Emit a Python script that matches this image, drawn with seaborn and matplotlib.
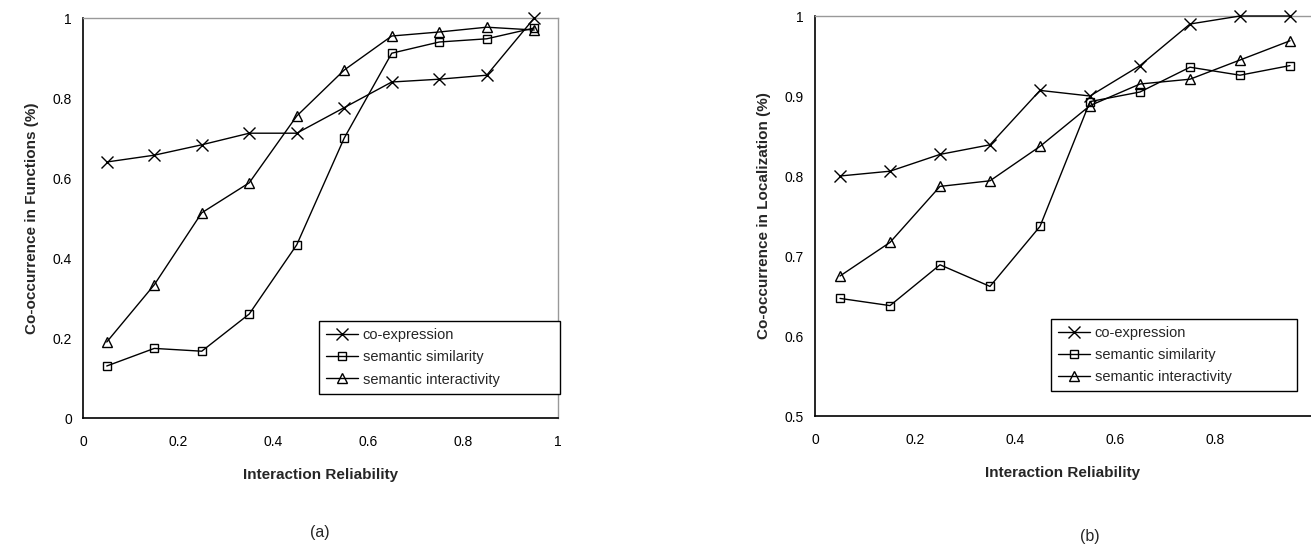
import pandas as pd
import matplotlib
matplotlib.use("Agg")
import matplotlib.pyplot as plt
import seaborn as sns

reliability = [0.05, 0.15, 0.25, 0.35, 0.45, 0.55, 0.65, 0.75, 0.85, 0.95]
series_names = ["co-expression", "semantic similarity", "semantic interactivity"]

# (a) functions
func_coexpr = [0.640, 0.657, 0.683, 0.712, 0.712, 0.776, 0.840, 0.847, 0.857, 1.000]
func_simil = [0.130, 0.174, 0.167, 0.260, 0.433, 0.700, 0.912, 0.940, 0.948, 0.975]
func_inter = [0.190, 0.333, 0.513, 0.588, 0.755, 0.870, 0.955, 0.965, 0.977, 0.970]

# (b) localization
loc_coexpr = [0.800, 0.806, 0.827, 0.839, 0.907, 0.900, 0.938, 0.990, 1.000, 1.000]
loc_simil = [0.647, 0.638, 0.689, 0.662, 0.737, 0.893, 0.905, 0.936, 0.926, 0.938]
loc_inter = [0.675, 0.717, 0.787, 0.794, 0.837, 0.888, 0.915, 0.921, 0.945, 0.969]

markers = {"co-expression": "x", "semantic similarity": "s", "semantic interactivity": "^"}
msizes = {"co-expression": 8, "semantic similarity": 6, "semantic interactivity": 7}

sns.set_style("white")
plt.rcParams["font.family"] = ["Liberation Sans", "DejaVu Sans"]


def make_df(vals):
    rows = []
    for name, ys in zip(series_names, vals):
        for x, y in zip(reliability, ys):
            rows.append({"x": x, "y": y, "series": name})
    return pd.DataFrame(rows)


def draw(ax, df, ylabel, ylim, yticks, yticklabels, xlim, xticks, xticklabels):
    for name in series_names:
        sub = df[df["series"] == name]
        sns.lineplot(data=sub, x="x", y="y", ax=ax, color="black", lw=1.0,
                     marker=markers[name], markersize=msizes[name],
                     markerfacecolor="none", markeredgecolor="black",
                     markeredgewidth=1.0, label=name, clip_on=False, zorder=3)
    ax.set_xlim(*xlim)
    ax.set_ylim(*ylim)
    ax.set_xticks(xticks)
    ax.set_xticklabels(xticklabels)
    ax.set_yticks(yticks)
    ax.set_yticklabels(yticklabels)
    ax.tick_params(direction="in", length=4, width=0.8, labelsize=10,
                   colors="black", pad=8)
    ax.tick_params(axis="x", pad=12)
    ax.set_xlabel("Interaction Reliability", fontsize=11, fontweight="bold", labelpad=14)
    ax.set_ylabel(ylabel, fontsize=11, fontweight="bold", labelpad=10)
    for s in ["left", "bottom"]:
        ax.spines[s].set_color("black")
        ax.spines[s].set_linewidth(1.2)
    for s in ["top", "right"]:
        ax.spines[s].set_color("#999999")
        ax.spines[s].set_linewidth(1.0)


fig = plt.figure(figsize=(13.11, 5.48), dpi=100)
ax1 = fig.add_axes([83 / 1311, 1 - 418 / 548, 475 / 1311, 400 / 548])
ax2 = fig.add_axes([815 / 1311, 1 - 416 / 548, 496 / 1311, 400 / 548])

draw(ax1, make_df([func_coexpr, func_simil, func_inter]),
     "Co-occurrence in Functions (%)", (0, 1),
     [0, 0.2, 0.4, 0.6, 0.8, 1], ["0", "0.2", "0.4", "0.6", "0.8", "1"],
     (0, 1), [0, 0.2, 0.4, 0.6, 0.8, 1], ["0", "0.2", "0.4", "0.6", "0.8", "1"])
draw(ax2, make_df([loc_coexpr, loc_simil, loc_inter]),
     "Co-occurrence in Localization (%)", (0.5, 1),
     [0.5, 0.6, 0.7, 0.8, 0.9, 1], ["0.5", "0.6", "0.7", "0.8", "0.9", "1"],
     (0, 0.992), [0, 0.2, 0.4, 0.6, 0.8], ["0", "0.2", "0.4", "0.6", "0.8"])
# panel (b) is cut off at the right edge in the original
ax2.spines["right"].set_visible(False)

for ax, anchor in [(ax1, (319 / 1311, 1 - 398 / 548, 241 / 1311, 81 / 548)),
                   (ax2, (1051 / 1311, 1 - 396 / 548, 246 / 1311, 82 / 548))]:
    leg = ax.legend(loc="center", bbox_to_anchor=anchor, bbox_transform=fig.transFigure,
                    mode="expand", fontsize=10.5, frameon=True, fancybox=False,
                    handlelength=2.2, handletextpad=0.3, borderaxespad=0,
                    labelspacing=0.55, borderpad=0.5)
    leg.get_frame().set_edgecolor("black")
    leg.get_frame().set_linewidth(1.0)
    leg.get_frame().set_alpha(1)
    leg.set_zorder(5)

fig.text(320 / 1311, 1 - 533 / 548, "(a)", ha="center", va="center", fontsize=11.5)
fig.text(1090 / 1311, 1 - 537 / 548, "(b)", ha="center", va="center", fontsize=11.5)

fig.savefig("out.png", dpi=100)
